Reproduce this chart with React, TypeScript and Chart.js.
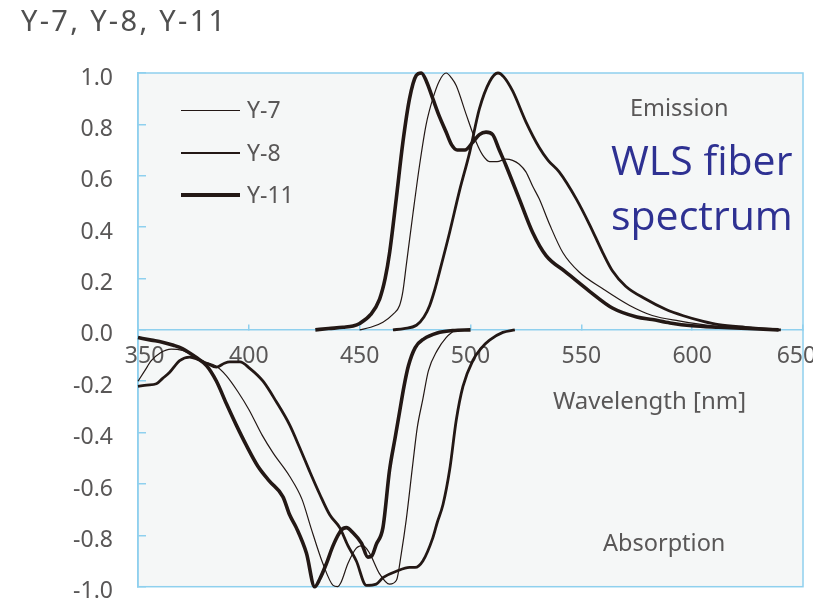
import React, { useEffect, useRef } from "react";
import { Chart, registerables } from "chart.js";

Chart.register(...registerables);

type Pt = [number, number];

// ---------------- data (wavelength nm, normalized intensity) ----------------
const SERIES = ["Y-7", "Y-8", "Y-11"];

const Y7_EMISSION: Pt[] = [
  [450, 0.0], [455, 0.01], [460.5, 0.03], [465, 0.06], [468, 0.095], [469.5, 0.15],
  [471, 0.25], [474, 0.45], [477, 0.64], [480, 0.8], [483, 0.9], [486, 0.97],
  [489, 1.0], [491.5, 0.98], [493.6, 0.95], [498, 0.84], [502.6, 0.73], [505.5, 0.68],
  [508.6, 0.655], [512, 0.655], [516, 0.665], [519, 0.66], [522, 0.645], [525, 0.615],
  [528, 0.56], [531, 0.51], [535.7, 0.41], [541.7, 0.3], [549, 0.225], [559.7, 0.16],
  [571.8, 0.095], [582, 0.056], [594, 0.035], [610, 0.015], [635, 0.0],
];

const Y8_EMISSION: Pt[] = [
  [465, 0.0], [470, 0.005], [475.6, 0.018], [479, 0.05], [481.6, 0.095], [484, 0.16],
  [486, 0.225], [490.6, 0.38], [495, 0.54], [499.6, 0.69], [504, 0.86], [508.6, 0.966],
  [512.4, 1.0], [515, 0.985], [519, 0.93], [525, 0.81], [531, 0.71], [535, 0.66],
  [540, 0.615], [547.7, 0.51], [553.7, 0.41], [559.7, 0.3], [564, 0.23], [570, 0.17],
  [579, 0.12], [588, 0.08], [596, 0.055], [605, 0.033], [612, 0.02], [624, 0.01], [640, 0.0],
];

const Y11_EMISSION: Pt[] = [
  [430, 0.0], [436, 0.005], [442.5, 0.01], [447, 0.015], [450, 0.025], [455, 0.06],
  [459, 0.12], [461.5, 0.2], [463.5, 0.3], [466.5, 0.51], [469.5, 0.73], [472.5, 0.9],
  [475.5, 0.99], [477.8, 1.0], [480, 0.97], [483, 0.9], [486, 0.83], [489, 0.77],
  [491.5, 0.72], [494, 0.7], [497.5, 0.7], [501, 0.73], [504, 0.76], [507, 0.77],
  [510, 0.76], [513, 0.7], [516, 0.64], [522, 0.51], [528, 0.38], [534, 0.29],
  [543, 0.225], [553.7, 0.15], [564, 0.085], [575, 0.05], [582, 0.04], [590, 0.027],
  [600, 0.016], [612, 0.01], [625, 0.005], [639, 0.0],
];

const Y7_ABSORPTION: Pt[] = [
  [350, -0.2], [353, -0.16], [356, -0.12], [360, -0.09], [365, -0.075], [370, -0.08],
  [375, -0.1], [380, -0.125], [385, -0.14], [390, -0.18], [395, -0.24], [400, -0.31],
  [406, -0.41], [411, -0.48], [418.4, -0.57], [424, -0.66], [428, -0.77], [433.4, -0.91],
  [438, -0.995], [440, -1.0], [441.5, -0.985], [444.7, -0.91], [448.5, -0.85], [451.5, -0.84],
  [454.5, -0.87], [459, -0.95], [463.5, -0.99], [466.6, -0.975], [468.8, -0.87], [471, -0.74],
  [474, -0.52], [476, -0.38], [478.5, -0.27], [481, -0.16], [485, -0.08], [489, -0.03], [493, 0.0],
];

const Y8_ABSORPTION: Pt[] = [
  [350, -0.22], [354, -0.215], [358.3, -0.21], [361, -0.19], [364.3, -0.165], [368.8, -0.12],
  [373.3, -0.106], [377, -0.115], [381, -0.13], [385.4, -0.145], [389, -0.13], [391.4, -0.125],
  [396, -0.125], [400.4, -0.15], [406.4, -0.2], [412.4, -0.28], [418.4, -0.37], [423, -0.46],
  [427.4, -0.55], [432, -0.64], [436.5, -0.72], [441, -0.77], [444.7, -0.84], [448.5, -0.9],
  [453, -0.995], [457.5, -0.99], [460.5, -0.965], [466.6, -0.94], [472.5, -0.925], [475, -0.925],
  [478.5, -0.9], [483, -0.81], [485, -0.75], [487.6, -0.68], [490.6, -0.545], [493.6, -0.35],
  [496.6, -0.22], [501, -0.12], [505, -0.07], [508.6, -0.04], [514.6, -0.01], [520, 0.0],
];

const Y11_ABSORPTION: Pt[] = [
  [350, -0.03], [356, -0.04], [361, -0.048], [366, -0.06], [370, -0.073], [376, -0.106],
  [381, -0.14], [385.4, -0.2], [390, -0.29], [394.3, -0.37], [398.9, -0.45], [404, -0.53],
  [409.4, -0.59], [415.4, -0.65], [418.4, -0.72], [421.4, -0.77], [426, -0.87], [429.7, -1.0],
  [432, -0.97], [435, -0.91], [438, -0.84], [441.7, -0.78], [444, -0.77], [447, -0.79],
  [450.8, -0.83], [453.7, -0.885], [455.5, -0.88], [457.5, -0.835], [460.5, -0.77], [463.5, -0.545],
  [466, -0.42], [468, -0.32], [470, -0.22], [472, -0.14], [475, -0.07], [479, -0.035],
  [485, -0.012], [492, -0.003], [500, 0.0],
];

const EMISSION: Record<string, Pt[]> = { "Y-7": Y7_EMISSION, "Y-8": Y8_EMISSION, "Y-11": Y11_EMISSION };
const ABSORPTION: Record<string, Pt[]> = { "Y-7": Y7_ABSORPTION, "Y-8": Y8_ABSORPTION, "Y-11": Y11_ABSORPTION };

const X_TICKS = [350, 400, 450, 500, 550, 600, 650];
const Y_TICKS = [-1.0, -0.8, -0.6, -0.4, -0.2, 0.0, 0.2, 0.4, 0.6, 0.8, 1.0];

const TITLE = "Y-7, Y-8, Y-11";
const X_LABEL = "Wavelength [nm]";
const EMISSION_LABEL = "Emission";
const ABSORPTION_LABEL = "Absorption";
const NOTE_LINES = ["WLS fiber", "spectrum"];

// ---------------- styles ----------------
const INK = "#231815";
const AXIS_BLUE = "#8fd0ee";
const PLOT_BG = "#f5f7f7";
const TEXT_GRAY = "#595757";
const NOTE_BLUE = "#2e3192";
const LINE_WIDTH: Record<string, number> = { "Y-7": 1.2, "Y-8": 2.8, "Y-11": 3.6 };
const FONT = "'Noto Sans', 'DejaVu Sans', sans-serif";
const FIG_SPACE = "\u2007";

const framePlugin = {
  id: "frame",
  beforeDraw(chart: any) {
    const { ctx, chartArea: a } = chart;
    ctx.save();
    ctx.fillStyle = PLOT_BG;
    ctx.fillRect(a.left, a.top, a.right - a.left, a.bottom - a.top);
    ctx.strokeStyle = AXIS_BLUE;
    ctx.lineWidth = 1.5;
    ctx.strokeRect(a.left, a.top, a.right - a.left, a.bottom - a.top);
    ctx.restore();
  },
};

const abs = (style: React.CSSProperties): React.CSSProperties => ({
  position: "absolute",
  whiteSpace: "nowrap",
  lineHeight: 1,
  fontFamily: FONT,
  color: TEXT_GRAY,
  ...style,
});

export default function App() {
  const canvasRef = useRef<HTMLCanvasElement | null>(null);

  useEffect(() => {
    if (!canvasRef.current) return;
    const datasets: any[] = [];
    SERIES.forEach((name) => {
      [EMISSION[name], ABSORPTION[name]].forEach((pts) => {
        datasets.push({
          label: name,
          data: pts.map(([x, y]) => ({ x, y })),
          borderColor: INK,
          backgroundColor: INK,
          borderWidth: LINE_WIDTH[name],
          pointRadius: 0,
          fill: false,
          cubicInterpolationMode: "monotone",
          clip: 4,
        });
      });
    });

    const firstX = X_TICKS[0];
    const lastX = X_TICKS[X_TICKS.length - 1];

    const chart = new Chart(canvasRef.current, {
      type: "line",
      data: { datasets },
      options: {
        animation: false,
        responsive: true,
        maintainAspectRatio: false,
        layout: { padding: { left: 0, right: 10, top: 73, bottom: 11.3 } },
        plugins: { legend: { display: false }, tooltip: { enabled: false } },
        scales: {
          x: {
            type: "linear",
            min: firstX,
            max: lastX,
            position: { y: 0 } as any,
            afterBuildTicks: (s: any) => {
              s.ticks = X_TICKS.map((v) => ({ value: v }));
            },
            afterFit: (s: any) => {
              s.height = 0;
              s.paddingLeft = 0;
              s.paddingRight = 0;
              s.paddingTop = 0;
              s.paddingBottom = 0;
            },
            ticks: {
              color: TEXT_GRAY,
              font: { family: FONT, size: 23, lineHeight: 1.2 },
              padding: 19,
              maxRotation: 0,
              autoSkip: false,
              callback: (v: any) => {
                const n = Number(v);
                if (n === firstX) return FIG_SPACE + String(n);
                if (n === lastX) return String(n) + FIG_SPACE;
                return String(n);
              },
            },
            grid: {
              display: true,
              drawOnChartArea: false,
              drawTicks: true,
              tickLength: -6,
              color: AXIS_BLUE,
              lineWidth: 1.5,
            },
            border: { display: true, color: AXIS_BLUE, width: 1.5 },
          },
          y: {
            type: "linear",
            min: -1,
            max: 1,
            position: "left",
            afterBuildTicks: (s: any) => {
              s.ticks = Y_TICKS.map((v) => ({ value: v }));
            },
            afterFit: (s: any) => {
              s.width = 138;
              s.paddingTop = 0;
              s.paddingBottom = 0;
            },
            ticks: {
              color: TEXT_GRAY,
              font: { family: FONT, size: 23, lineHeight: 1.0 },
              padding: 33,
              labelOffset: 5,
              autoSkip: false,
              callback: (v: any) => (Math.abs(Number(v)) < 1e-9 ? "0.0" : Number(v).toFixed(1)),
            },
            grid: {
              display: true,
              drawOnChartArea: false,
              drawTicks: true,
              tickLength: -8,
              color: AXIS_BLUE,
              lineWidth: 1.5,
            },
            border: { display: true, color: AXIS_BLUE, width: 1.5 },
          },
        },
      },
      plugins: [framePlugin],
    } as any);

    return () => chart.destroy();
  }, []);

  return (
    <div style={{ position: "absolute", left: 0, top: 0, width: 813, height: 598, background: "#ffffff", overflow: "hidden" }}>
      <canvas ref={canvasRef} />
      <div style={abs({ left: 21, top: 5, fontSize: 29, letterSpacing: 2.3, color: "#505050" })}>{TITLE}</div>
      {SERIES.map((name, i) => (
        <React.Fragment key={name}>
          <div
            style={{
              position: "absolute",
              left: 181,
              top: 110.7 + i * 42.2 - LINE_WIDTH[name] / 2,
              width: 59,
              height: LINE_WIDTH[name],
              background: INK,
            }}
          />
          <div style={abs({ left: 247, top: 110.7 + i * 42.2 - 12.4, fontSize: 23 })}>{name}</div>
        </React.Fragment>
      ))}
      <div style={abs({ left: 630, top: 96, fontSize: 23.5 })}>{EMISSION_LABEL}</div>
      <div style={abs({ left: 603, top: 531, fontSize: 23.5 })}>{ABSORPTION_LABEL}</div>
      <div style={abs({ left: 553, top: 387.5, fontSize: 24 })}>{X_LABEL}</div>
      <div
        style={abs({
          left: 611,
          top: 131.6,
          fontSize: 41,
          lineHeight: "55px",
          fontFamily: "'Open Sans', 'Noto Sans', sans-serif",
          color: NOTE_BLUE,
        })}
      >
        {NOTE_LINES.map((l) => (
          <div key={l}>{l}</div>
        ))}
      </div>
    </div>
  );
}
